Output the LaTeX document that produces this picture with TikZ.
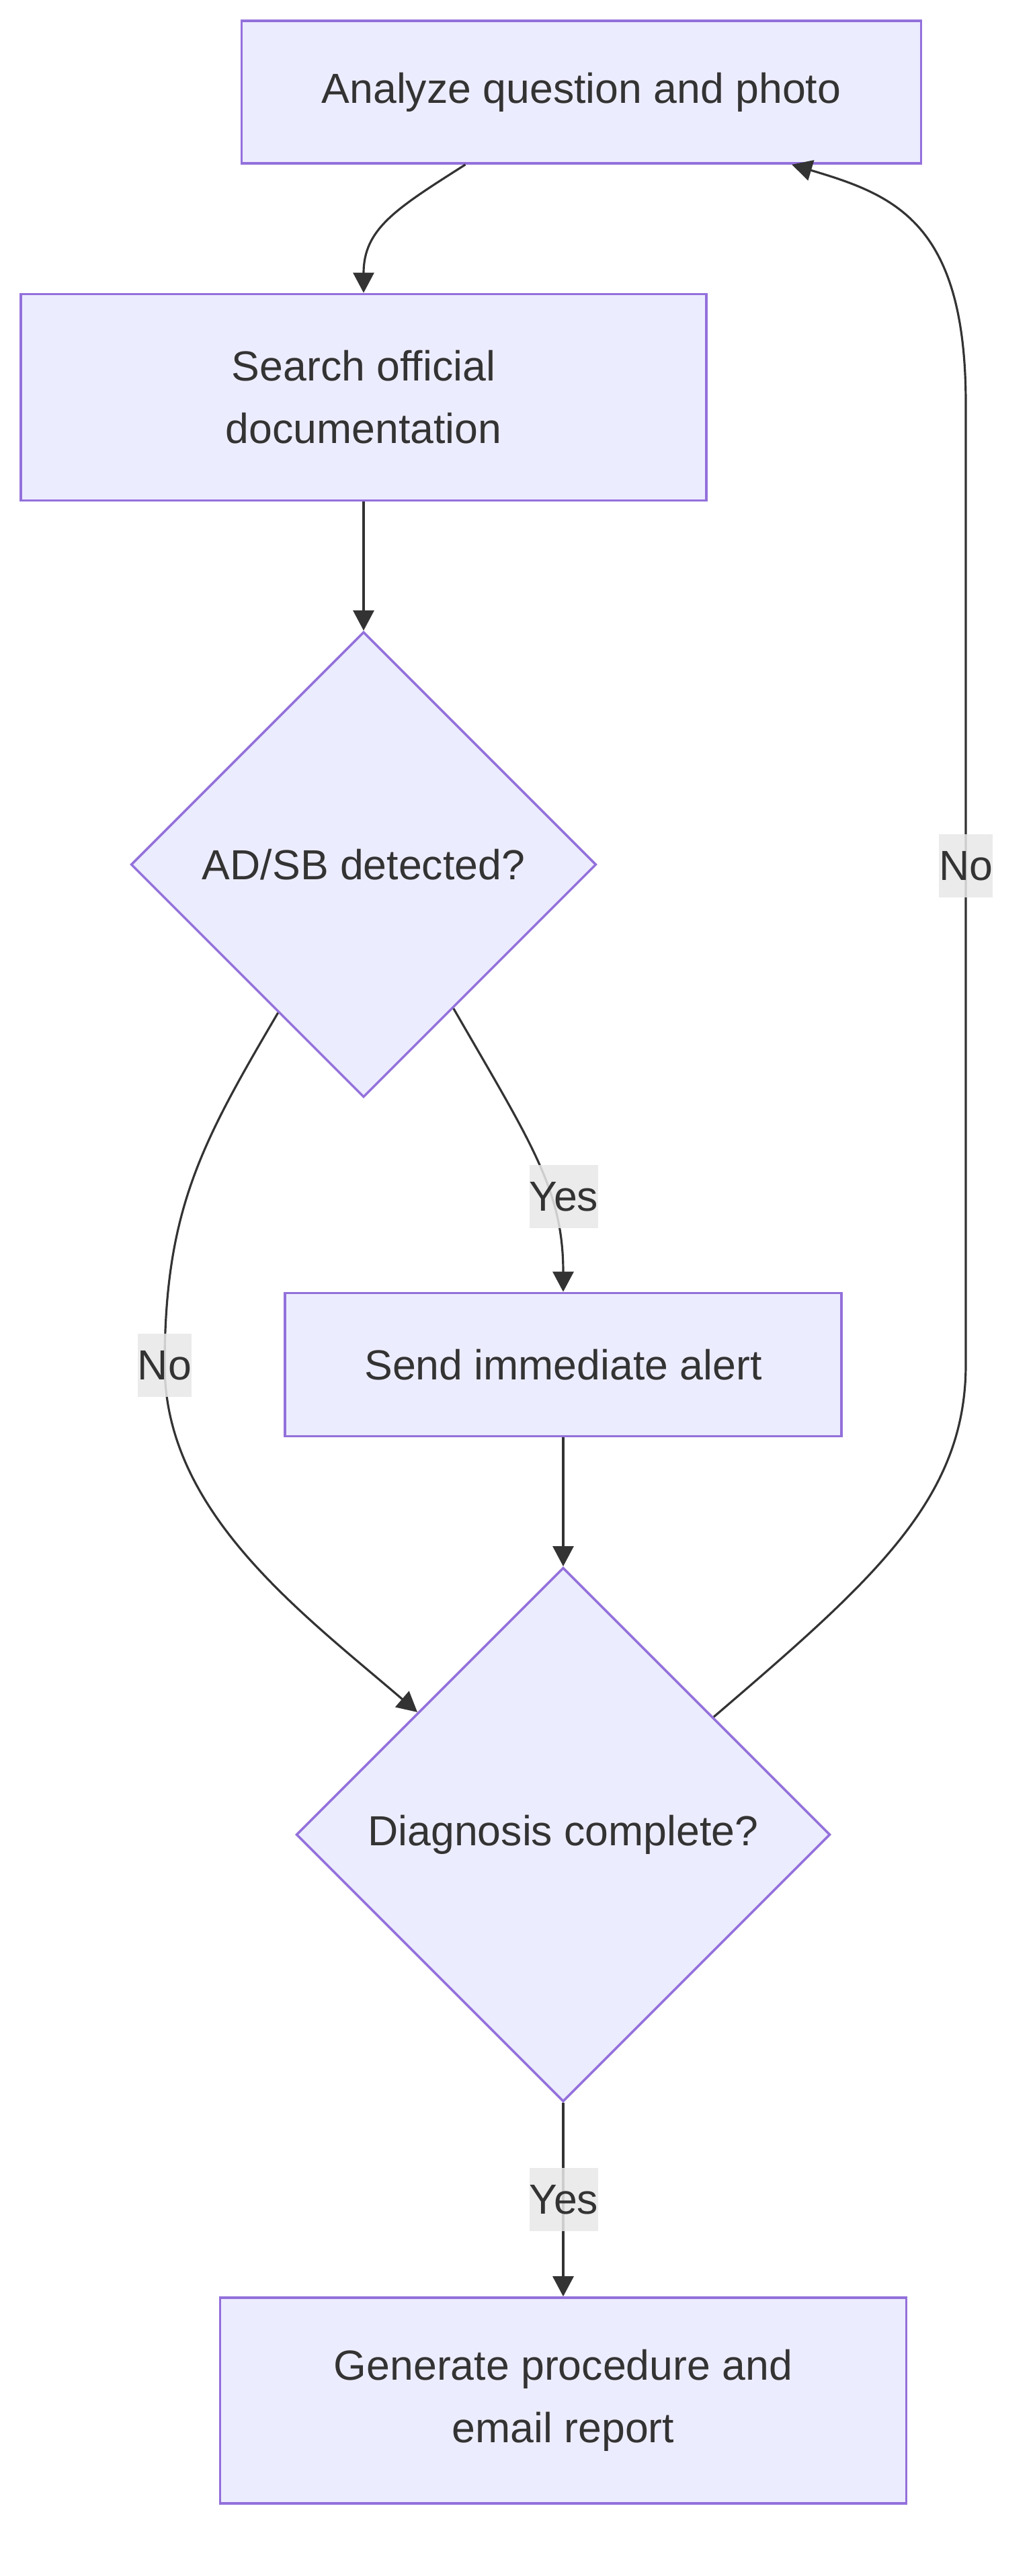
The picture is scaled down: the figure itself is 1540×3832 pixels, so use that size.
\documentclass[tikz,border=0pt]{standalone}
\usepackage{fontspec}
\setmainfont{Liberation Sans}
\usepackage{xcolor}
\usepackage{tikz}
\usetikzlibrary{shapes.geometric,arrows.meta}
\definecolor{boxfill}{HTML}{ECECFF}
\definecolor{boxline}{HTML}{9370DB}
\definecolor{ink}{HTML}{333333}
\definecolor{lblgray}{HTML}{E8E8E8}

\begin{document}
\begin{tikzpicture}[x=0.01cm, y=-0.01cm,
    font={\fontsize{17.8pt}{26.5pt}\selectfont},
    box/.style={draw=boxline, fill=boxfill, line width=1pt, text=ink, align=center, inner sep=0pt},
    decision/.style={diamond, aspect=1, draw=boxline, fill=boxfill, line width=1pt, text=ink, inner sep=0pt},
    lbl/.style={fill=lblgray, fill opacity=0.85, text opacity=1, text=ink, inner xsep=0pt, inner ysep=0pt, minimum height=0.94cm},
    flow/.style={draw=ink, line width=0.9pt, -{Triangle[length=3mm, width=3.1mm]}}]
        \useasboundingbox (0,0) rectangle (1540,3832);
        \node[box, minimum width=10.10cm, minimum height=2.12cm] (analyze) at (865,137) {Analyze question and photo};
        \node[box, minimum width=10.19cm, minimum height=3.07cm] (search) at (541,591) {Search official\\documentation};
        \node[decision, minimum width=6.92cm, minimum height=6.92cm] (adsb) at (541,1286) {AD/SB detected?};
        \node[box, minimum width=8.28cm, minimum height=2.13cm] (alert) at (838,2030) {Send immediate alert};
        \node[decision, minimum width=7.94cm, minimum height=7.94cm] (diag) at (838,2729) {Diagnosis complete?};
        \node[box, minimum width=10.20cm, minimum height=3.06cm] (report) at (838,3571) {Generate procedure and\\email report};

        \draw[flow] (analyze.-148.1) .. controls (590,310) and (541,340) .. (search.north);
        \draw[flow] (search.south) -- (adsb.north);
        \draw[flow] (adsb.-58.5) .. controls (790,1700) and (838,1770) .. (alert.north);
        \node[lbl] (yes1) at (839,1780) {Yes};
        \draw[flow] (adsb.-120.7) .. controls (300,1700) and (245,1800) .. (245,2031)
            node[lbl] (no1) {No}
            .. controls (245,2250) and (450,2400) .. (diag.140.4);
        \draw[flow] (alert.south) -- (diag.north);
        \draw[flow] (diag.38.8) .. controls (1300,2350) and (1437,2230) .. (1437,2030)
            -- (1437,1288) node[lbl] (no2) {No}
            -- (1437,600) .. controls (1437,330) and (1330,290) .. (analyze.-19.6);
        \draw[flow] (diag.south) -- (report.north);
        \node[lbl] (yes2) at (839,3272) {Yes};
    \end{tikzpicture}
\end{document}
